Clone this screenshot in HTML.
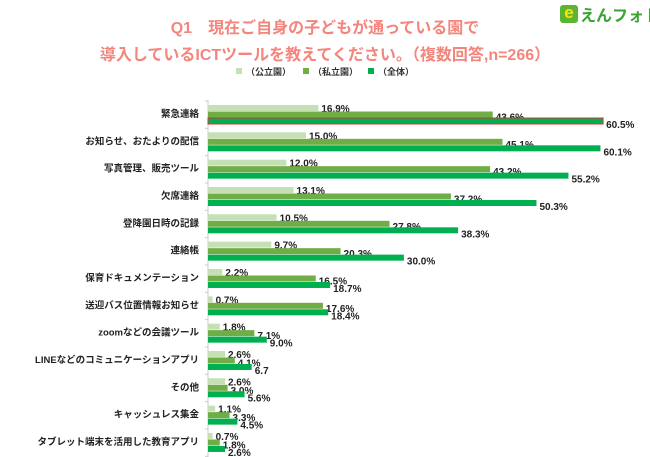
<!DOCTYPE html>
<html><head><meta charset="utf-8"><style>
body{margin:0;background:#fff;font-family:"Liberation Sans","Noto Sans CJK JP",sans-serif;}
#wrap{position:relative;width:650px;height:457px;overflow:hidden;}
.title{position:absolute;left:0;width:650px;text-align:center;color:#f4857c;font-weight:bold;font-size:16px;white-space:nowrap;}
</style></head><body>
<div id="wrap">
<div class="title" style="top:14px">Q1　現在ご自身の子どもが通っている園で</div>
<div class="title" style="top:41px">導入しているICTツールを教えてください。（複数回答,n=266）</div>
<div style="position:absolute;left:560px;top:2px;display:flex;align-items:center;white-space:nowrap;width:100px;">
<div style="width:18px;height:18px;background:#5cb531;border-radius:3px;color:#ffe600;font-weight:bold;font-size:17px;line-height:16px;text-align:center;">e</div>
<span style="color:#3aa535;font-weight:bold;font-size:16px;margin-left:2px;">えんフォト</span>
</div>
<svg id="chart" width="650" height="457" style="position:absolute;left:0;top:0"></svg>
</div>
<script>
const categories=["緊急連絡","お知らせ、おたよりの配信","写真管理、販売ツール","欠席連絡","登降園日時の記録","連絡帳","保育ドキュメンテーション","送迎バス位置情報お知らせ","zoomなどの会議ツール","LINEなどのコミュニケーションアプリ","その他","キャッシュレス集金","タブレット端末を活用した教育アプリ"];
const publicVals=[16.9,15.0,12.0,13.1,10.5,9.7,2.2,0.7,1.8,2.6,2.6,1.1,0.7];
const privateVals=[43.6,45.1,43.2,37.2,27.8,20.3,16.5,17.6,7.1,4.1,3.0,3.3,1.8];
const totalVals=[60.5,60.1,55.2,50.3,38.3,30.0,18.7,18.4,9.0,6.7,5.6,4.5,2.6];
const totalLabels=["60.5%","60.1%","55.2%","50.3%","38.3%","30.0%","18.7%","18.4%","9.0%","6.7","5.6%","4.5%","2.6%"];
const seriesNames=["（公立園）","（私立園）","（全体）"];
const colors=["#c5e0b4","#70ad47","#00b050"];
const NS="http://www.w3.org/2000/svg";
const svg=document.getElementById('chart');
const x0=208,ppu=6.53,y0=104,pitch=27.33;
const xs=v=>x0+v*ppu;
const yg=i=>y0+i*pitch;
function mk(t,a){const e=document.createElementNS(NS,t);for(const k in a)e.setAttribute(k,a[k]);svg.appendChild(e);return e;}
const lx=[236,303,368];
seriesNames.forEach((n,i)=>{
 const r=mk('rect',{x:lx[i],y:68,width:6,height:6,fill:colors[i]});
 
 
 const t=mk('text',{x:lx[i]+10,y:75,'font-size':9,'font-weight':'bold',fill:'#333'});
 t.textContent=n;
 
 
});
const ax=mk('line',{x1:x0,y1:y0-4,x2:x0,y2:yg(categories.length)-2,stroke:'#ccc','stroke-width':1});


for(let i=0;i<=categories.length;i++){
 const tk=mk('line',{x1:x0-3,x2:x0,y1:yg(i)-3,y2:yg(i)-3,stroke:'#ccc'});
 
 
}
const sets=[publicVals,privateVals,totalVals];
categories.forEach((c,i)=>{
 const t=mk('text',{x:199,y:yg(i)+13,'font-size':9.5,'font-weight':'bold','text-anchor':'end',fill:'#222'});
 t.textContent=c;
 
 
 sets.forEach((vals,s)=>{
  const by=yg(i)+1+s*6.5;
  const b=mk('rect',{x:x0,y:by,width:vals[i]*ppu,height:6,fill:colors[s]});
  if(i===0&&s===2){b.setAttribute('stroke','#e03030');b.setAttribute('stroke-width','1');}
  
  
  const lab=mk('text',{x:xs(vals[i])+3,y:by+(s===0?7:s===1?9:10),'font-size':10,'font-weight':'bold',fill:'#222'});
  lab.textContent=s===2?totalLabels[i]:vals[i].toFixed(1)+'%';
  
  
 });
});
</script>
</body></html>
